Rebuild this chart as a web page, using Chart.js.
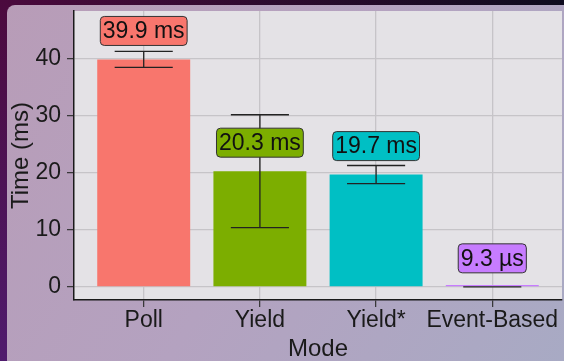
<!DOCTYPE html>
<html>
<head>
<meta charset="utf-8">
<script src="https://cdn.jsdelivr.net/npm/chart.js@4.4.0/dist/chart.umd.min.js"></script>
<style>
  html, body { margin: 0; padding: 0; background: #2a0f3a; }
  #wrap { width: 564px; height: 361px; }
</style>
</head>
<body>
<div id="wrap"><canvas id="modeChart" width="564" height="361"></canvas></div>
<script>
const modes = ['Poll', 'Yield', 'Yield*', 'Event-Based'];
const meanMs = [39.9, 20.3, 19.7, 0.0093];
const errLowMs = [38.5, 10.4, 18.1, 0.0093];
const errHighMs = [41.3, 30.2, 21.3, 0.0093];
const valueLabels = ['39.9 ms', '20.3 ms', '19.7 ms', '9.3 µs'];
const yTicks = [0, 10, 20, 30, 40];
const barColors = ['#F8766D', '#7CAE00', '#00BFC4', '#C77CFF'];

const FONT = '"Liberation Sans", Arial, sans-serif';
const INK = '#1a1a1a';

// window background, card and grey panel
const backdrop = {
  id: 'backdrop',
  beforeDraw(chart) {
    const { ctx, width, height, chartArea: a } = chart;
    ctx.save();
    let g = ctx.createLinearGradient(0, 0, width, 0);
    g.addColorStop(0, '#4b0a3d');
    g.addColorStop(1, '#0d0b1e');
    ctx.fillStyle = g;
    ctx.fillRect(0, 0, width, height);
    g = ctx.createLinearGradient(0, 0, 0, height);
    g.addColorStop(0, '#4b0a3d');
    g.addColorStop(1, '#4f1b6d');
    ctx.fillStyle = g;
    ctx.fillRect(0, 0, 8, height);

    g = ctx.createLinearGradient(0, 0, width, height);
    g.addColorStop(0, '#b89cb7');
    g.addColorStop(0.5, '#b4a2c0');
    g.addColorStop(1, '#a8aac4');
    ctx.fillStyle = g;
    ctx.beginPath();
    ctx.roundRect(7, 5, width + 20, height + 20, 8);
    ctx.fill();

    ctx.fillStyle = '#e4e2e6';
    ctx.fillRect(a.left, a.top, a.right - a.left, a.bottom - a.top);
    ctx.restore();
  }
};

const errorBarsAndLabels = {
  id: 'errorBarsAndLabels',
  afterDatasetsDraw(chart) {
    const { ctx, scales: { x, y } } = chart;
    ctx.save();
    ctx.strokeStyle = '#222';
    ctx.lineWidth = 1.3;
    meanMs.forEach((m, i) => {
      const cx = x.getPixelForValue(i + 1);
      const x0 = x.getPixelForValue(i + 1 - 0.25);
      const x1 = x.getPixelForValue(i + 1 + 0.25);
      const yLo = y.getPixelForValue(errLowMs[i]);
      const yHi = y.getPixelForValue(errHighMs[i]);
      ctx.beginPath();
      ctx.moveTo(x0, yHi); ctx.lineTo(x1, yHi);
      ctx.moveTo(cx, yHi); ctx.lineTo(cx, yLo);
      ctx.moveTo(x0, yLo); ctx.lineTo(x1, yLo);
      ctx.stroke();
    });

    ctx.font = '23px ' + FONT;
    ctx.textAlign = 'center';
    ctx.textBaseline = 'middle';
    valueLabels.forEach((txt, i) => {
      const cx = x.getPixelForValue(i + 1);
      const cy = y.getPixelForValue(meanMs[i] + 5);
      const w = ctx.measureText(txt).width + 5;
      const h = 29;
      ctx.beginPath();
      ctx.roundRect(cx - w / 2, cy - h / 2, w, h, 4);
      ctx.fillStyle = barColors[i];
      ctx.fill();
      ctx.lineWidth = 1;
      ctx.strokeStyle = '#333';
      ctx.stroke();
      ctx.fillStyle = '#111';
      ctx.fillText(txt, cx, cy + 1);
    });
    ctx.restore();
  }
};

const gridStyle = { color: '#c6c4c8', lineWidth: 1.3, tickColor: '#333', tickLength: 7, tickWidth: 1.2, offset: false };

new Chart(document.getElementById('modeChart'), {
  type: 'bar',
  data: {
    datasets: [{
      data: meanMs.map((v, i) => ({ x: i + 1, y: v })),
      backgroundColor: barColors,
      borderWidth: 0,
      barPercentage: 0.8,
      categoryPercentage: 1,
      minBarLength: 2
    }]
  },
  options: {
    responsive: false,
    animation: false,
    layout: { padding: { left: 0, top: 11, right: 2, bottom: 0 } },
    plugins: { legend: { display: false }, tooltip: { enabled: false } },
    scales: {
      x: {
        type: 'linear', min: 0.4, max: 4.6, offset: false,
        afterBuildTicks: s => { s.ticks = modes.map((m, i) => ({ value: i + 1 })); },
        afterFit: s => { s.height = 61; s.paddingLeft = 0; s.paddingRight = 0; },
        ticks: { callback: v => modes[Math.round(v) - 1], font: { family: FONT, size: 23 }, color: INK, padding: 0, maxRotation: 0, autoSkip: false },
        grid: gridStyle,
        border: { display: true, color: INK, width: 1.5 },
        title: { display: true, text: 'Mode', color: INK, font: { family: FONT, size: 24, lineHeight: 1 }, padding: 0 }
      },
      y: {
        min: -2.3, max: 48.4,
        afterBuildTicks: s => { s.ticks = yTicks.map(v => ({ value: v })); },
        afterFit: s => { s.width = 74; s.paddingTop = 0; s.paddingBottom = 0; },
        ticks: { font: { family: FONT, size: 23 }, color: INK, padding: 6 },
        grid: gridStyle,
        border: { display: true, color: INK, width: 1.5 },
        title: { display: true, text: 'Time (ms)', color: INK, font: { family: FONT, size: 24, lineHeight: 1 }, padding: { top: 9, bottom: 0 } }
      }
    }
  },
  plugins: [backdrop, errorBarsAndLabels]
});
</script>
</body>
</html>
